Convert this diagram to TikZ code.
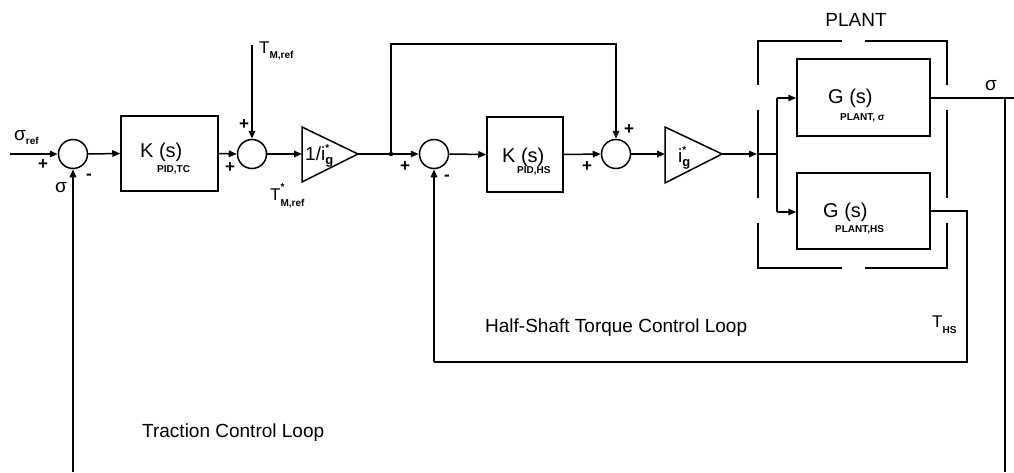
\documentclass[tikz,border=0pt]{standalone}
\usepackage{fontspec}
\setmainfont{Liberation Sans}
\usetikzlibrary{arrows.meta}
\newcommand\tx[1]{\fontsize{#1}{#1}\selectfont}
\tikzset{
  wire/.style={line width=1.5pt},
  arr/.style={wire,-{Triangle[length=8pt,width=6.5pt]}},
  sumnode/.style={circle,draw,line width=1.5pt,minimum size=29pt,inner sep=0pt},
  blk/.style={draw,line width=1.5pt,inner sep=0pt},
  lbl/.style={anchor=base west,inner sep=0pt,font=\tx{20}},
  sub/.style={anchor=base west,inner sep=0pt,font=\tx{10}\bfseries},
  sgn/.style={inner sep=0pt,font=\tx{17}\bfseries},
  txt/.style={anchor=base west,inner sep=0pt,font=\tx{19}},
}
\begin{document}
\begin{tikzpicture}[x=1pt,y=-1pt]
\useasboundingbox (0,0) rectangle (1014,472);

% summing junctions
\node[sumnode] (s1) at (73,154) {};
\node[sumnode] (s2) at (252,154) {};
\node[sumnode] (s3) at (434,154) {};
\node[sumnode] (s4) at (616,154) {};

% blocks
\node[blk,minimum width=97pt,minimum height=75pt] (ktc) at (169.5,153.5) {};
\node[blk,minimum width=76pt,minimum height=75pt] (khs) at (525,154.5) {};
\node[blk,minimum width=133pt,minimum height=77pt] (g1) at (863.5,97.5) {};
\node[blk,minimum width=133pt,minimum height=76pt] (g2) at (863.5,211) {};

% gain triangles
\draw[wire,line join=miter] (302,127) -- (358,154) -- (302,182) -- cycle;
\coordinate (t1in) at (302,154);
\coordinate (t1out) at (358,154);
\draw[wire,line join=miter] (665,127) -- (722,154) -- (665,183) -- cycle;
\coordinate (t2in) at (665,154);
\coordinate (t2out) at (722,154);

% coordinates
\coordinate (inref) at (10,154);
\coordinate (tmref) at (252,45);
\coordinate (jd) at (391,154);
\coordinate (fftop1) at (391,44);
\coordinate (fftop2) at (616,44);
\coordinate (pin) at (757,154);
\coordinate (br) at (777,154);
\coordinate (brt) at (777,98);
\coordinate (brb) at (777,212);
\coordinate (sigR) at (1014,98);
\coordinate (sigC) at (1005,98);
\coordinate (sigB) at (1005,472);
\coordinate (tcB) at (73,472);
\coordinate (hsA) at (967,211);
\coordinate (hsB) at (967,362);
\coordinate (hsC) at (434,362);

% forward path
\draw[arr] (inref) -- (s1.west);
\draw[arr] (s1.east) -- (ktc.west);
\draw[arr] (ktc.east) -- (s2.west);
\draw[arr] (tmref) -- (s2.north);
\draw[arr] (s2.east) -- (t1in);
\draw[wire] (t1out) -- (jd);
\draw[arr] (jd) -- (s3.west);
\fill (jd) circle (2.2pt);
\draw[arr] (s3.east) -- (khs.west);
\draw[arr] (khs.east) -- (s4.west);
\draw[arr] (jd) -- (fftop1) -- (fftop2) -- (s4.north);
\draw[arr] (s4.east) -- (t2in);
\draw[arr] (t2out) -- (pin);
\draw[wire] (pin) -- (br);
\draw[wire] (brt) -- (brb);
\draw[arr] (brt) -- (g1.west |- brt);
\draw[arr] (brb) -- (g2.west |- brb);

% outputs and feedback
\draw[wire] (g1.east |- sigR) -- (sigR);
\draw[wire] (sigC) -- (sigB);
\draw[wire] (g2.east |- hsA) -- (hsA) -- (hsB) -- (hsC);
\draw[arr] (hsC) -- (s3.south);
\draw[arr] (tcB) -- (s1.south);

% plant bracket
\draw[wire] (758,85) -- (758,41) -- (842,41);
\draw[wire] (865,41) -- (947,41) -- (947,85);
\draw[wire] (758,110) -- (758,198);
\draw[wire] (947,110) -- (947,198);
\draw[wire] (758,223) -- (758,268) -- (842,268);
\draw[wire] (865,268) -- (947,268) -- (947,223);

% block labels
\node[lbl] (ktcl) at (140,157) {K (s)};
\node[sub] (ktcs) at (157,172) {PID,TC};
\node[lbl] (khsl) at (502,162) {K (s)};
\node[sub] (khss) at (517,173) {PID,HS};
\node[lbl] (g1l) at (828,103) {G (s)};
\node[sub] (g1s) at (840,120) {PLANT, σ};
\node[lbl] (g2l) at (823,217) {G (s)};
\node[sub] (g2s) at (835,232) {PLANT,HS};

% gain labels
\node[anchor=base west,inner sep=0pt,font=\tx{19}] (t1l) at (305,160) {1/i\rlap{\raisebox{9pt}{\tx{10}\bfseries *}}\raisebox{-4pt}{\tx{13}\bfseries g}};
\node[anchor=base west,inner sep=0pt,font=\tx{19}] (t2l) at (678,162) {i\rlap{\raisebox{9pt}{\tx{10}\bfseries *}}\raisebox{-4pt}{\tx{13}\bfseries g}};

% signal labels
\node[anchor=base west,inner sep=0pt,font=\tx{19}] (sref) at (14,140) {σ\raisebox{-4pt}{\tx{10}\bfseries ref}};
\node[txt] (sfb) at (55,192) {σ};
\node[anchor=base west,inner sep=0pt,font=\tx{17}] (tml) at (259,53) {T\raisebox{-5pt}{\tx{10}\bfseries M,ref}};
\node[anchor=base west,inner sep=0pt,font=\tx{17}] (tmsl) at (270,200) {T\rlap{\raisebox{10pt}{\tx{10}\bfseries *}}\raisebox{-6pt}{\tx{10}\bfseries M,ref}};
\node[txt] (sout) at (985,90) {σ};
\node[anchor=base west,inner sep=0pt,font=\tx{17}] (thsl) at (932,327) {T\raisebox{-6pt}{\tx{10}\bfseries HS}};
\node[inner sep=0pt,font=\tx{19}] (plantl) at (856,20) {PLANT};
\node[txt] (hsloop) at (485,332) {Half-Shaft Torque Control Loop};
\node[txt] (tcloop) at (142,437) {Traction Control Loop};

% signs
\node[sgn] at (43,165) {+};
\node[sgn] at (89,177) {-};
\node[sgn] at (244,125) {+};
\node[sgn] at (230,168) {+};
\node[sgn] at (405,167) {+};
\node[sgn] at (447,178) {-};
\node[sgn] at (587,167) {+};
\node[sgn] at (629,130) {+};
\end{tikzpicture}
\end{document}
